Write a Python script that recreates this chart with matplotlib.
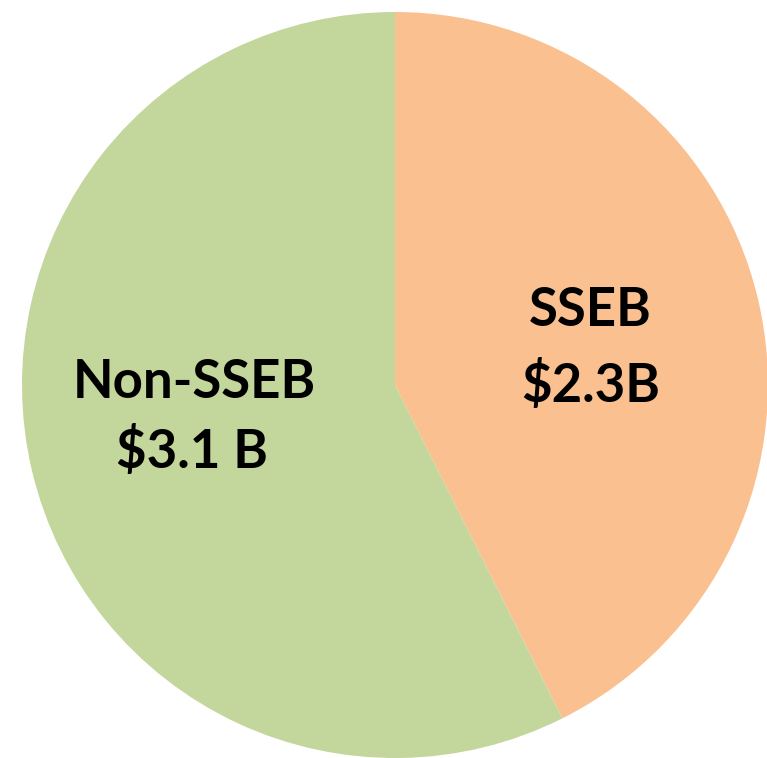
import matplotlib.pyplot as plt

labels = ['SSEB', 'Non-SSEB']
values = [2.3, 3.1]
value_text = ['$2.3B', '$3.1 B']
colors = ['#FAC090', '#C3D69B']

W, H = 767, 758
fig = plt.figure(figsize=(W / 100, H / 100), dpi=100)
ax = fig.add_axes([0, 0, 1, 1])

# pie in pixel units, y measured from the bottom
cx, cy, r = 395, H - 385, 373
ax.pie(values, colors=colors, startangle=90, counterclock=False,
       center=(cx, cy), radius=r, wedgeprops={'linewidth': 0})

font = {'family': 'Lato', 'weight': 'bold', 'size': 38, 'color': 'black'}
# label positions (pixel coords from top)
pos = [((590, 310), (591, 385)), ((194, 382), (192, 452))]
for i in range(len(labels)):
    (x1, y1), (x2, y2) = pos[i]
    ax.text(x1, H - y1, labels[i], ha='center', va='center', fontdict=font)
    ax.text(x2, H - y2, value_text[i], ha='center', va='center', fontdict=font)

ax.set_xlim(0, W)
ax.set_ylim(0, H)
ax.set_aspect('equal')
ax.axis('off')

plt.savefig('out.png', dpi=100)
